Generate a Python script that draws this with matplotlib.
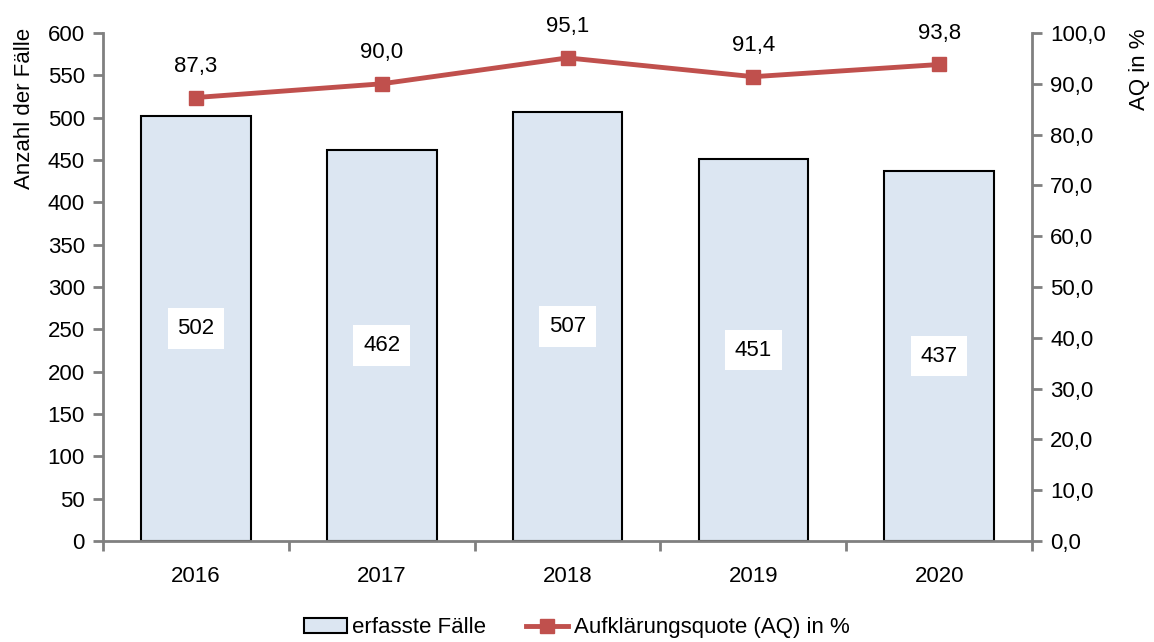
import matplotlib
matplotlib.use('Agg')
import matplotlib.pyplot as plt
from matplotlib.ticker import FuncFormatter, FixedLocator, NullFormatter
from matplotlib.patches import Patch
from matplotlib.lines import Line2D

plt.rcParams['font.family'] = ['Liberation Sans Narrow', 'Liberation Sans', 'DejaVu Sans']

years = ['2016', '2017', '2018', '2019', '2020']
faelle = [502, 462, 507, 451, 437]
quote = [87.3, 90.0, 95.1, 91.4, 93.8]

bar_color = '#DCE6F2'
line_color = '#C0504D'
axis_color = '#808080'
fs = 16

fig = plt.figure(figsize=(11.54, 6.42), dpi=100)
ax = fig.add_axes([0.0893, 0.1573, 0.805, 0.7913])
ax2 = ax.twinx()

x = list(range(len(years)))
ax.bar(x, faelle, width=0.59, color=bar_color, edgecolor='black', linewidth=1.5, zorder=2)
for xi, v in zip(x, faelle):
    ax.text(xi, v / 2, str(v), ha='center', va='center', fontsize=fs,
            bbox=dict(facecolor='white', edgecolor='none', pad=7), zorder=3)

ax.set_xlim(-0.5, len(years) - 0.5)
ax.set_ylim(0, 600)
ax.set_yticks(range(0, 601, 50))
ax.set_xticks(x)
ax.set_xticklabels(years, fontsize=fs)
ax.tick_params(axis='x', length=0, pad=18)
ax.xaxis.set_minor_locator(FixedLocator([i - 0.5 for i in range(len(years) + 1)]))
ax.xaxis.set_minor_formatter(NullFormatter())
ax.tick_params(axis='x', which='minor', length=7, width=2, color=axis_color)
ax.tick_params(axis='y', labelsize=fs, length=7, width=2, color=axis_color, pad=6)

ax2.plot(x, quote, color=line_color, linewidth=3.5, marker='s', markersize=10, zorder=4)
for xi, q in zip(x, quote):
    ax2.annotate(f'{q:.1f}'.replace('.', ','), (xi, q), xytext=(0, 15),
                 textcoords='offset points', ha='center', va='bottom', fontsize=fs)
ax2.set_ylim(0, 100)
ax2.set_yticks(range(0, 101, 10))
ax2.yaxis.set_major_formatter(FuncFormatter(lambda v, p: f'{v:.1f}'.replace('.', ',')))
ax2.tick_params(axis='y', labelsize=fs, length=7, width=2, color=axis_color, pad=6)

# axis titles sit at the top, as in the original
fig.text(25 / 1154, 1 - 28 / 642, 'Anzahl der Fälle', rotation=90,
         ha='center', va='top', fontsize=fs)
fig.text(1140 / 1154, 1 - 28 / 642, 'AQ in %', rotation=90,
         ha='center', va='top', fontsize=fs)

for a in (ax, ax2):
    a.spines['top'].set_visible(False)
    for s in ('left', 'right', 'bottom'):
        a.spines[s].set_color(axis_color)
        a.spines[s].set_linewidth(2)
ax.spines['right'].set_visible(False)
ax2.spines['left'].set_visible(False)
ax2.spines['bottom'].set_visible(False)

handles = [Patch(facecolor=bar_color, edgecolor='black', linewidth=1.5),
           Line2D([0], [0], color=line_color, linewidth=3.5, marker='s', markersize=10)]
fig.legend(handles, ['erfasste Fälle', 'Aufklärungsquote (AQ) in %'],
           loc='center', bbox_to_anchor=(0.5, 0.022), ncol=2, frameon=False,
           fontsize=fs, handlelength=1.9, handleheight=0.6, handletextpad=0.25,
           columnspacing=1.8)

fig.savefig('out.png', dpi=100)
